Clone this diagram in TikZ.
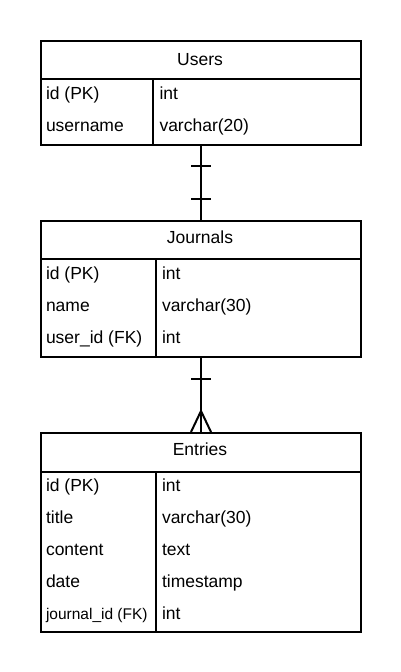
\documentclass[tikz,border=0pt]{standalone}
\usepackage{fontspec}
\setmainfont{Liberation Sans}
\usetikzlibrary{calc}
\begin{document}
\begin{tikzpicture}[x=1pt,y=-1pt,line width=2pt,
  tbl/.style={draw,line width=2pt,inner sep=0pt,anchor=north west,minimum width=320pt},
  cell/.style={anchor=base west,inner sep=0pt,font=\fontsize{17.5}{20}\selectfont},
  small/.style={anchor=base west,inner sep=0pt,font=\fontsize{15.5}{18}\selectfont},
  ttl/.style={anchor=base,inner sep=0pt,font=\fontsize{17.5}{20}\selectfont},
  tick/.style={line width=2pt}]
\useasboundingbox (0,0) rectangle (400,672);
% Users
\node[tbl,minimum height=104pt] (users) at (40,40) {};
\draw (40,79) -- (360,79);
\draw (153,79) -- (153,144);
\node[ttl] (usersT) at (200,65) {Users};
\node[cell] (u1a) at (45,99.5) {id (PK)};
\node[cell] (u1b) at (158.5,99.5) {int};
\node[cell] (u2a) at (45,131.5) {username};
\node[cell] (u2b) at (158.5,131.5) {varchar(20)};
% Journals
\node[tbl,minimum height=136pt] (journals) at (40,220) {};
\draw (40,259) -- (360,259);
\draw (156,259) -- (156,356);
\node[ttl] (journalsT) at (200,243.5) {Journals};
\node[cell] (j1a) at (45,279.5) {id (PK)};
\node[cell] (j1b) at (161,279.5) {int};
\node[cell] (j2a) at (45,311.5) {name};
\node[cell] (j2b) at (161,311.5) {varchar(30)};
\node[cell] (j3a) at (45,343.5) {user\_id (FK)};
\node[cell] (j3b) at (161,343.5) {int};
% Entries
\node[tbl,minimum height=199pt] (entries) at (40,432) {};
\draw (40,472) -- (360,472);
\draw (156,472) -- (156,631);
\node[ttl] (entriesT) at (200,455) {Entries};
\node[cell] (e1a) at (45,491.5) {id (PK)};
\node[cell] (e1b) at (161,491.5) {int};
\node[cell] (e2a) at (45,523.5) {title};
\node[cell] (e2b) at (161,523.5) {varchar(30)};
\node[cell] (e3a) at (45,555) {content};
\node[cell] (e3b) at (161,555) {text};
\node[cell] (e4a) at (45,587) {date};
\node[cell] (e4b) at (161,587) {timestamp};
\node[small] (e5a) at (45,619) {journal\_id (FK)};
\node[cell] (e5b) at (161,619) {int};
% Users -- Journals (one to one)
\draw (users.south) -- (journals.north);
\coordinate (t1) at ($(users.south)+(0,20)$);
\coordinate (t2) at ($(journals.north)+(0,-21)$);
\draw[tick] ($(t1)+(-10,0)$) -- ($(t1)+(10,0)$);
\draw[tick] ($(t2)+(-10,0)$) -- ($(t2)+(10,0)$);
% Journals -- Entries (one to many)
\draw (journals.south) -- (entries.north);
\coordinate (t3) at ($(journals.south)+(0,21)$);
\draw[tick] ($(t3)+(-10,0)$) -- ($(t3)+(10,0)$);
\coordinate (apex) at ($(entries.north)+(0,-21)$);
\draw[tick] ($(entries.north)+(-10,0)$) -- (apex) -- ($(entries.north)+(10,0)$);
\end{tikzpicture}
\end{document}
